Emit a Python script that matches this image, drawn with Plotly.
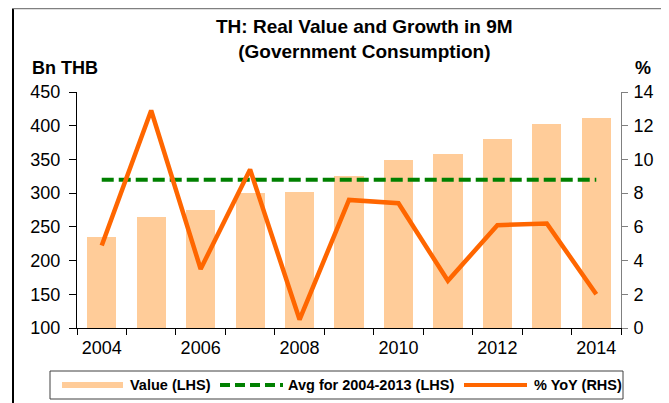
import plotly.graph_objects as go

# ---- data ----
years = [2004, 2005, 2006, 2007, 2008, 2009, 2010, 2011, 2012, 2013, 2014]
value_lhs = [235, 265, 275, 300, 302, 325, 349, 358, 380, 403, 411]
yoy_rhs = [4.9, 12.9, 3.5, 9.4, 0.5, 7.6, 7.4, 2.8, 6.1, 6.2, 2.0]
avg_years = [2004, 2014]
avg_lhs = [320, 320]
x_tick_years = [2004, 2006, 2008, 2010, 2012, 2014]
x_tick_text = ["2004", "2006", "2008", "2010", "2012", "2014"]
x_boundaries = [2003.5, 2004.5, 2005.5, 2006.5, 2007.5, 2008.5, 2009.5,
                2010.5, 2011.5, 2012.5, 2013.5, 2014.5]

title_lines = ["TH: Real Value and Growth in 9M", "(Government Consumption)"]
legend_labels = ["Value (LHS)", "Avg for 2004-2013 (LHS)", "% YoY (RHS)"]

# ---- styling ----
OFF = 8  # page body margin of the html page
W, H = 669 - OFF, 403 - OFF
# plot area in page pixels
PL, PR, PT, PB = 77, 621, 92, 328
L, R, T, B = PL - OFF, PR - OFF, PT - OFF, PB - OFF
FONT = "Arial, 'Liberation Sans', sans-serif"
PEACH = "#FFCC99"
GREEN = "#008000"
ORANGE = "#FF6600"


def px(xp):
    """page x pixel -> paper coordinate"""
    return (xp - OFF - L) / (R - L)


def py(yp):
    """page y pixel -> paper coordinate"""
    return (B - (yp - OFF)) / (B - T)


fig = go.Figure()
fig.add_trace(go.Bar(x=years, y=value_lhs, name=legend_labels[0],
                     marker=dict(color=PEACH, line=dict(width=0)),
                     width=0.59, yaxis="y", showlegend=False))
fig.add_trace(go.Scatter(x=avg_years, y=avg_lhs, name=legend_labels[1],
                         mode="lines", yaxis="y",
                         line=dict(color=GREEN, width=4, dash="12px,5px"),
                         showlegend=False))
fig.add_trace(go.Scatter(x=years, y=yoy_rhs, name=legend_labels[2],
                         mode="lines", yaxis="y2",
                         line=dict(color=ORANGE, width=4.5),
                         showlegend=False))

shapes = []
annotations = []

# outer frame
shapes.append(dict(type="line", xref="paper", yref="paper",
                   x0=px(13), x1=px(13), y0=py(8.5), y1=py(420),
                   line=dict(color="#000000", width=2)))
shapes.append(dict(type="line", xref="paper", yref="paper",
                   x0=px(13), x1=px(663), y0=py(8.5), y1=py(8.5),
                   line=dict(color="#808080", width=1.5)))
shapes.append(dict(type="line", xref="paper", yref="paper",
                   x0=px(663), x1=px(663), y0=py(8.5), y1=py(420),
                   line=dict(color="#505050", width=2)))

# custom legend
shapes.append(dict(type="rect", xref="paper", yref="paper",
                   x0=px(50), x1=px(623), y0=py(371), y1=py(399),
                   line=dict(color="#404040", width=1), fillcolor="rgba(0,0,0,0)"))
ly = py(385)
shapes.append(dict(type="line", xref="paper", yref="paper",
                   x0=px(62), x1=px(123), y0=ly, y1=ly,
                   line=dict(color=PEACH, width=6)))
shapes.append(dict(type="line", xref="paper", yref="paper",
                   x0=px(220), x1=px(283), y0=ly, y1=ly,
                   line=dict(color=GREEN, width=4, dash="10px,5px")))
shapes.append(dict(type="line", xref="paper", yref="paper",
                   x0=px(464), x1=px(527), y0=ly, y1=ly,
                   line=dict(color=ORANGE, width=4)))
for txt, xl in zip(legend_labels, [128, 286, 532]):
    annotations.append(dict(text="<b>%s</b>" % txt, xref="paper", yref="paper",
                            x=px(xl), y=ly, xanchor="left", yanchor="middle",
                            showarrow=False,
                            font=dict(family=FONT, size=14.5, color="#000000")))

# title (two lines in one text block)
annotations.append(dict(text="<b>%s</b><br><b>%s</b>" % tuple(title_lines),
                        xref="paper", yref="paper",
                        x=px(364), y=py(39), xanchor="center", yanchor="middle",
                        align="center", showarrow=False,
                        font=dict(family=FONT, size=19, color="#000000")))
annotations.append(dict(text="<b>Bn THB</b>", xref="paper", yref="paper",
                        x=px(30), y=py(68), xanchor="left", yanchor="middle",
                        showarrow=False, font=dict(family=FONT, size=18, color="#000000")))
annotations.append(dict(text="<b>%</b>", xref="paper", yref="paper",
                        x=px(653), y=py(68), xanchor="right", yanchor="middle",
                        showarrow=False, font=dict(family=FONT, size=18, color="#000000")))

fig.update_layout(
    width=W, height=H, autosize=False,
    margin=dict(l=L, r=W - R, t=T, b=H - B, pad=0),
    paper_bgcolor="white", plot_bgcolor="white",
    font=dict(family=FONT, size=18, color="#000000"),
    showlegend=False,
    bargap=0,
    xaxis=dict(range=[2003.5, 2014.5], tickmode="array", tickvals=x_tick_years,
               ticktext=x_tick_text, ticks="", showgrid=False, zeroline=False,
               showline=True, linecolor="#000000", linewidth=1,
               ticklabelstandoff=3,
               minor=dict(tickmode="array", tickvals=x_boundaries, ticks="outside",
                          ticklen=6, tickcolor="#000000", tickwidth=1, showgrid=False),
               tickfont=dict(family=FONT, size=18, color="#000000")),
    yaxis=dict(range=[100, 450], dtick=50, tick0=100, ticks="outside", ticklen=7,
               tickcolor="#000000", showgrid=False, zeroline=False,
               showline=True, linecolor="#000000", linewidth=1,
               ticklabelstandoff=5,
               tickfont=dict(family=FONT, size=18, color="#000000")),
    yaxis2=dict(range=[0, 14], dtick=2, tick0=0, overlaying="y", side="right",
                ticks="outside", ticklen=6, tickcolor="#808080", showgrid=False,
                zeroline=False, showline=True, linecolor="#808080", linewidth=1,
                ticklabelstandoff=2,
                tickfont=dict(family=FONT, size=18, color="#000000")),
    shapes=shapes,
    annotations=annotations,
)

fig.write_html("out.html")
